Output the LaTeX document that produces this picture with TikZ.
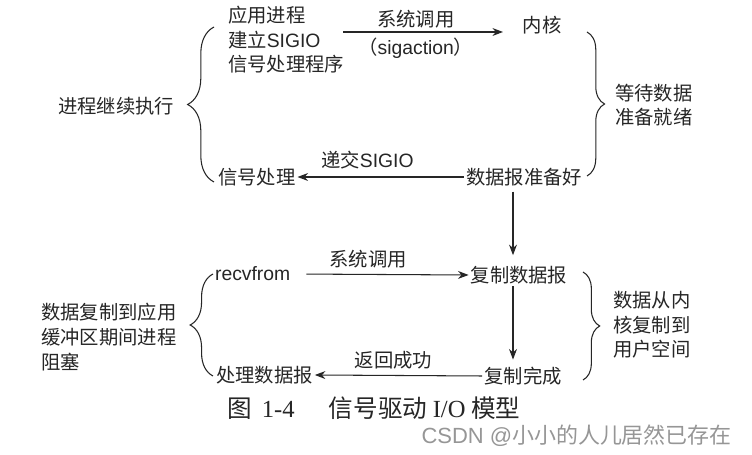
\documentclass[tikz,border=0pt]{standalone}
\usepackage{fontspec}
\setmainfont{Noto Sans CJK SC}
\newfontfamily\lat{Liberation Sans}
\newfontfamily\capser{Liberation Serif}
\usetikzlibrary{arrows.meta,positioning,decorations.pathreplacing}
\definecolor{ink}{RGB}{38,38,38}
\definecolor{mark}{RGB}{150,150,150}

\begin{document}
\begin{tikzpicture}[x=0.02cm,y=-0.02cm,
    txt/.style={font=\fontsize{11}{14}\selectfont,text=ink,inner sep=1pt},
    arr/.style={-{Stealth[length=6pt,width=4.5pt]},draw=ink,line width=0.6pt},
    brc/.style={decorate,decoration={brace,amplitude=#1},draw=ink,line width=0.6pt}]
  \useasboundingbox[fill=white] (0,0) rectangle (752,455);

  % upper half: signal set-up
  \node[txt,align=left,anchor=west] (app) at (226,40) {应用进程\\建立{\lat SIGIO}\\信号处理程序};
  \node[txt] (kern) at (542,25) {内核};
  \node[txt] (cont) at (116,106) {进程继续执行};
  \node[txt,align=left,anchor=west] (wait) at (613,105) {等待数据\\准备就绪};
  \node[txt] (ready) at (524,177) {数据报准备好};
  \node[txt,anchor=west] (sig) at (216,177) {信号处理};

  % lower half: copy of the datagram
  \node[txt,anchor=west] (recv) at (213,274) {\lat recvfrom};
  \node[txt] (copy) at (519,275) {复制数据报};
  \node[txt] (done) at (523,376) {复制完成};
  \node[txt,anchor=west] (proc) at (214,375) {处理数据报};
  \node[txt,align=left,anchor=west] (blk) at (39,337) {数据复制到应用\\缓冲区期间进程\\阻塞};
  \node[txt,align=left,anchor=west] (move) at (611,325) {数据从内\\核复制到\\用户空间};

  \coordinate (s1) at (343,32);
  \draw[arr,shorten >=10pt] (s1) -- (s1 -| kern.west)
    node[txt,above=1pt,pos=0.41] {系统调用}
    node[txt,below=2pt,pos=0.41] {（{\lat sigaction}）};
  \draw[arr] (ready.west) -- (sig.east)
    node[txt,above=3pt,pos=0.58] {递交{\lat SIGIO}};
  \draw[arr,shorten <=2pt,shorten >=5pt] ([xshift=-0.22cm]ready.south) -- ([xshift=-0.22cm]ready.south |- copy.north);
  \draw[arr,shorten <=8pt] (recv.east) -- (copy.west)
    node[txt,above=2pt,pos=0.43] {系统调用};
  \draw[arr,shorten >=3pt] ([xshift=-0.12cm]copy.south) -- ([xshift=-0.12cm]copy.south |- done.north);
  \draw[arr] (done.west) -- (proc.east)
    node[txt,above=2pt,pos=0.53] {返回成功};

  % braces
  \draw[brc=15pt] (214,182) -- (214,27);
  \draw[brc=10pt] (587,32) -- (587,176);
  \draw[brc=13pt] (213,376) -- (213,274);
  \draw[brc=9.5pt] (583,272) -- (583,380);

  \node[font=\fontsize{14}{16}\selectfont,text=ink] (cap) at (374,408)
    {图\ \,{\capser 1-4}\quad\ \,信号驱动\ {\capser I/O}\ 模型};
  \node[font=\fontsize{12.5}{15}\selectfont,text=mark,anchor=east] (wm) at (738,436)
    {{\lat CSDN @}小小的人儿居然已存在};
\end{tikzpicture}
\end{document}
